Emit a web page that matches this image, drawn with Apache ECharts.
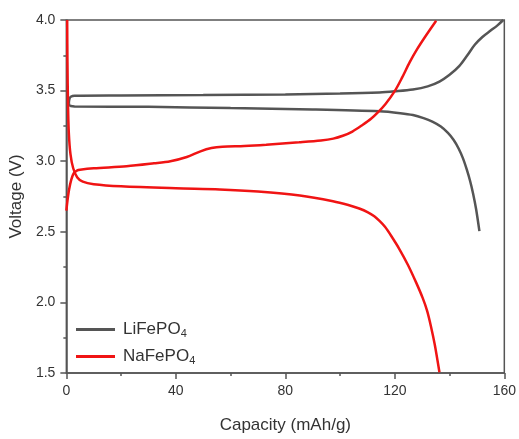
<!DOCTYPE html>
<html>
<head>
<meta charset="utf-8">
<script src="https://cdn.jsdelivr.net/npm/echarts@6/dist/echarts.min.js"></script>
<style>
  html, body { margin: 0; padding: 0; background: #fff; }
  #chart { width: 519px; height: 439px; }
</style>
</head>
<body>
<div id="chart"></div>
<script>
// Galvanostatic charge/discharge profiles: [capacity (mAh/g), voltage (V)]
const liCharge = [
  [0.9, 3.41], [1.1, 3.44], [1.6, 3.456], [3, 3.464], [20, 3.466], [50, 3.468],
  [80, 3.473], [100, 3.479], [114.4, 3.487], [120, 3.495], [126.6, 3.508],
  [132, 3.53], [136.3, 3.564], [140, 3.612], [143.6, 3.675], [146.5, 3.75],
  [149.2, 3.825], [152, 3.88], [155, 3.925], [157.5, 3.962], [159.6, 4.0]
];
const liDischarge = [
  [0.9, 3.41], [1.1, 3.397], [1.6, 3.391], [3, 3.388], [30, 3.385], [60, 3.376],
  [90, 3.366], [114.4, 3.353], [122, 3.34], [126.6, 3.327], [130.5, 3.305],
  [133.7, 3.28], [136.8, 3.245], [139.4, 3.2], [141.5, 3.15], [143.3, 3.09],
  [144.9, 3.02], [146.3, 2.94], [147.5, 2.86], [148.6, 2.77], [149.7, 2.66],
  [150.9, 2.505]
];
const naCharge = [
  [0, 2.65], [0.4, 2.72], [1, 2.8], [1.8, 2.87], [2.7, 2.915], [4, 2.935],
  [5, 2.94], [10, 2.95], [22, 2.964], [32, 2.985], [38, 3.0], [44, 3.03],
  [49, 3.07], [53, 3.093], [57, 3.103], [65, 3.108], [73, 3.117], [85, 3.134],
  [93, 3.147], [97.5, 3.16], [101, 3.18], [104.5, 3.21], [108.3, 3.258],
  [111.3, 3.3], [113.8, 3.345], [116.6, 3.405], [119.9, 3.494], [122.6, 3.59],
  [125.4, 3.70], [128.2, 3.795], [131.2, 3.885], [135.1, 3.995]
];
const naDischarge = [
  [0.3, 4.0], [0.4, 3.7], [0.6, 3.4], [0.9, 3.2], [1.5, 3.05], [2.5, 2.95],
  [4, 2.885], [6, 2.855], [10, 2.837], [20, 2.822], [40, 2.808], [56, 2.8],
  [70, 2.785], [85.3, 2.757], [97.4, 2.717], [103, 2.69], [107, 2.665],
  [110, 2.64], [112.5, 2.61], [114.5, 2.575], [116.4, 2.535], [118.7, 2.47],
  [121.7, 2.376], [124.8, 2.265], [127.8, 2.14], [130.2, 2.03], [131.8, 1.94],
  [133.2, 1.83], [134.6, 1.7], [136.3, 1.505]
];
const xTicks = { min: 0, max: 160, step: 40 };
const yTicks = { min: 1.5, max: 4.0, step: 0.5 };
const seriesNames = ['LiFePO4', 'NaFePO4'];
const seriesColors = ['#555555', '#f01414'];

const chart = echarts.init(document.getElementById('chart'), null, { renderer: 'canvas' });
const axisColor = '#555';
const labelColor = '#333';
const fontFamily = 'Liberation Sans, Arial, sans-serif';

function lineSeries(name, data, color) {
  return {
    name: name, type: 'line', data: data, symbol: 'none',
    smooth: 0.3,
    lineStyle: { color: color, width: 2.5 }, itemStyle: { color: color },
    animation: false, clip: true
  };
}

chart.setOption({
  backgroundColor: '#fff',
  animation: false,
  grid: { left: 66, right: 14, top: 20, bottom: 65, show: true, borderColor: axisColor, borderWidth: 1.5, backgroundColor: 'transparent' },
  xAxis: {
    type: 'value', min: xTicks.min, max: xTicks.max, interval: xTicks.step,
    name: 'Capacity (mAh/g)', nameLocation: 'middle', nameGap: 44,
    nameTextStyle: { fontSize: 17, color: labelColor, fontFamily: fontFamily },
    axisLine: { show: true, onZero: false, lineStyle: { color: axisColor, width: 1.5 } },
    axisTick: { show: true, inside: false, length: 6, lineStyle: { color: axisColor, width: 1.5 } },
    minorTick: { show: true, splitNumber: 2, length: 3, lineStyle: { color: axisColor, width: 1.5 } },
    axisLabel: { fontSize: 14, color: labelColor, margin: 11, fontFamily: fontFamily },
    splitLine: { show: false }
  },
  yAxis: {
    type: 'value', min: yTicks.min, max: yTicks.max, interval: yTicks.step,
    name: 'Voltage (V)', nameLocation: 'middle', nameGap: 38,
    nameTextStyle: { fontSize: 17, color: labelColor, fontFamily: fontFamily },
    axisLine: { show: true, onZero: false, lineStyle: { color: axisColor, width: 1.5 } },
    axisTick: { show: true, inside: false, length: 6, lineStyle: { color: axisColor, width: 1.5 } },
    minorTick: { show: true, splitNumber: 2, length: 3, lineStyle: { color: axisColor, width: 1.5 } },
    axisLabel: { fontSize: 14, color: labelColor, margin: 11, fontFamily: fontFamily,
      formatter: v => v.toFixed(1) },
    splitLine: { show: false }
  },
  legend: {
    data: seriesNames,
    orient: 'vertical', left: 71, top: 316, itemGap: 9,
    itemWidth: 39, itemHeight: 3, icon: 'rect',
    formatter: n => '{a|' + n.slice(0, -1) + '}{b|' + n.slice(-1) + '}',
    textStyle: {
      color: labelColor, padding: [0, 0, 0, 3],
      rich: {
        a: { fontSize: 17, color: labelColor, fontFamily: fontFamily },
        b: { fontSize: 11, color: labelColor, fontFamily: fontFamily, verticalAlign: 'bottom', padding: [8, 0, 0, 0] }
      }
    }
  },
  series: [
    lineSeries(seriesNames[0], liCharge, seriesColors[0]),
    lineSeries(seriesNames[0], liDischarge, seriesColors[0]),
    lineSeries(seriesNames[1], naCharge, seriesColors[1]),
    lineSeries(seriesNames[1], naDischarge, seriesColors[1])
  ]
});
</script>
</body>
</html>
